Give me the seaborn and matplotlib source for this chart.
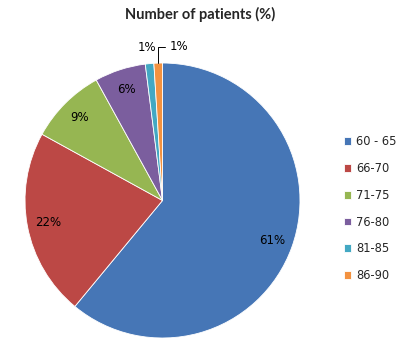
import matplotlib
matplotlib.use('Agg')
import matplotlib.pyplot as plt
import numpy as np
import seaborn as sns

sns.set_style("white")
plt.rcParams['font.family'] = ['DejaVu Sans']

# Data
age_groups = ['60 - 65', '66-70', '71-75', '76-80', '81-85', '86-90']
patients_pct = [61, 22, 9, 6, 1, 1]

# Excel-like palette
colors = sns.color_palette(['#4676B6', '#BC4845', '#96B652',
                            '#7B5E9E', '#43A8C3', '#F39240'])

fig = plt.figure(figsize=(4.06, 3.53), dpi=100)
ax = fig.add_axes([0.0616, 0.0425, 0.6773, 0.779])

wedges, _ = ax.pie(
    patients_pct,
    colors=colors,
    startangle=90,
    counterclock=False,
    radius=1,
    wedgeprops=dict(edgecolor='white', linewidth=0.6),
)
ax.set_xlim(-1, 1)
ax.set_ylim(-1, 1)
ax.set_aspect('equal')

# percentage labels
for i, (w, v) in enumerate(zip(wedges, patients_pct)):
    mid = np.deg2rad((w.theta1 + w.theta2) / 2)
    label = f"{v}%"
    if i < 4:
        r = 0.85
        ax.text(r * np.cos(mid), r * np.sin(mid), label,
                ha='center', va='center', fontsize=8.5, color='black')
    elif i == 4:
        r = 1.12
        ax.text(r * np.cos(mid) - 0.01, r * np.sin(mid), label,
                ha='center', va='center', fontsize=8.5, color='black')
    else:
        px, py = np.cos(mid), np.sin(mid)
        ax.annotate(label, xy=(px, py), xytext=(0.05, 1.118),
                    ha='left', va='center', fontsize=8.5, color='black',
                    annotation_clip=False,
                    arrowprops=dict(arrowstyle='-', color='black', lw=0.7,
                                    connectionstyle='angle,angleA=0,angleB=90,rad=0',
                                    shrinkA=1, shrinkB=0))

fig.text(0.493, 0.96, 'Number of patients (%)', ha='center', va='center',
         fontsize=10.5, fontweight='bold', family=['Lato', 'DejaVu Sans'])

ax.legend(wedges, age_groups, loc='center left',
          bbox_to_anchor=(0.832, 0.409), bbox_transform=fig.transFigure,
          frameon=False, fontsize=8.3, handlelength=0.65, handleheight=0.65,
          handletextpad=0.45, labelspacing=1.2, borderpad=0)

plt.savefig('out.png', dpi=100)
